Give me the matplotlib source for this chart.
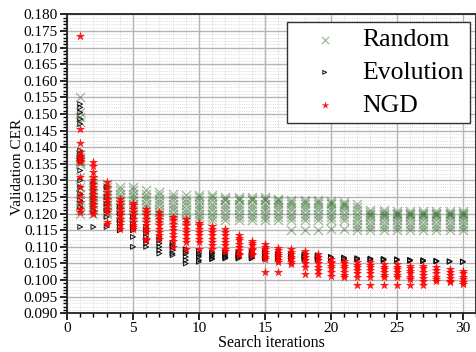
import matplotlib
matplotlib.use("Agg")
import matplotlib.pyplot as plt
from matplotlib.ticker import MultipleLocator, FormatStrFormatter

iterations = list(range(1, 31))

random_vals = [
    [0.155, 0.1505, 0.149, 0.1475, 0.138, 0.137, 0.1365, 0.136, 0.1355, 0.135, 0.131, 0.128, 0.126, 0.124, 0.1225, 0.121, 0.120],
    [0.130, 0.1285, 0.127, 0.126, 0.125, 0.124, 0.123, 0.122, 0.121, 0.120],
    [0.129, 0.128, 0.127, 0.1255, 0.1245, 0.1235, 0.1225, 0.1215, 0.1205, 0.120],
    [0.128, 0.127, 0.126, 0.125, 0.124, 0.123, 0.122, 0.121, 0.120, 0.119],
    [0.128, 0.127, 0.126, 0.125, 0.124, 0.123, 0.122, 0.121, 0.120, 0.119],
    [0.127, 0.126, 0.125, 0.124, 0.123, 0.122, 0.121, 0.120, 0.119],
    [0.1265, 0.1255, 0.1245, 0.1235, 0.1225, 0.1215, 0.1205, 0.1195, 0.1185],
    [0.126, 0.125, 0.124, 0.123, 0.122, 0.121, 0.120, 0.119, 0.118],
    [0.1255, 0.1245, 0.1235, 0.1225, 0.1215, 0.1205, 0.1195, 0.1185, 0.1178],
    [0.1255, 0.125, 0.124, 0.123, 0.122, 0.121, 0.120, 0.119, 0.118],
    [0.1255, 0.125, 0.124, 0.123, 0.122, 0.121, 0.120, 0.119, 0.118],
    [0.125, 0.1245, 0.124, 0.123, 0.122, 0.121, 0.120, 0.119, 0.118],
    [0.125, 0.1245, 0.124, 0.123, 0.122, 0.121, 0.120, 0.119, 0.118],
    [0.125, 0.1245, 0.124, 0.123, 0.122, 0.121, 0.120, 0.119, 0.118],
    [0.125, 0.1245, 0.124, 0.123, 0.122, 0.121, 0.120, 0.119, 0.118],
    [0.1245, 0.124, 0.1235, 0.123, 0.122, 0.121, 0.120, 0.119, 0.118],
    [0.124, 0.1235, 0.123, 0.122, 0.121, 0.120, 0.119, 0.118, 0.115],
    [0.124, 0.1235, 0.123, 0.122, 0.121, 0.120, 0.119, 0.118, 0.115],
    [0.124, 0.1235, 0.123, 0.122, 0.121, 0.120, 0.119, 0.118, 0.115],
    [0.1238, 0.1233, 0.123, 0.122, 0.121, 0.120, 0.119, 0.118, 0.1155],
    [0.1235, 0.123, 0.1225, 0.122, 0.121, 0.120, 0.119, 0.118, 0.1155],
    [0.1228, 0.122, 0.121, 0.120, 0.119, 0.118, 0.117, 0.116, 0.115],
    [0.121, 0.1205, 0.120, 0.1195, 0.119, 0.118, 0.117, 0.116, 0.115],
    [0.121, 0.1205, 0.120, 0.1195, 0.119, 0.118, 0.117, 0.116, 0.115],
    [0.1208, 0.1203, 0.120, 0.1195, 0.119, 0.118, 0.117, 0.116, 0.115],
    [0.1208, 0.1203, 0.120, 0.1195, 0.119, 0.118, 0.117, 0.116, 0.115],
    [0.1208, 0.1203, 0.120, 0.1195, 0.119, 0.118, 0.117, 0.116, 0.115],
    [0.1208, 0.1203, 0.120, 0.1195, 0.119, 0.118, 0.117, 0.116, 0.115],
    [0.1208, 0.1203, 0.120, 0.1195, 0.119, 0.118, 0.117, 0.116, 0.115],
    [0.1208, 0.1203, 0.120, 0.1195, 0.119, 0.118, 0.117, 0.116, 0.115],
]

evolution_vals = [
    [0.153, 0.152, 0.1505, 0.1485, 0.147, 0.139, 0.138, 0.137, 0.136, 0.133, 0.130, 0.128, 0.126, 0.124, 0.122, 0.116],
    [0.129, 0.127, 0.125, 0.123, 0.121, 0.116],
    [0.128, 0.125, 0.123, 0.121, 0.119, 0.116],
    [0.122, 0.120, 0.118, 0.117, 0.116, 0.115],
    [0.119, 0.117, 0.116, 0.115, 0.113, 0.110],
    [0.116, 0.115, 0.114, 0.113, 0.112, 0.111, 0.110],
    [0.113, 0.112, 0.111, 0.110, 0.109, 0.108],
    [0.1112, 0.1105, 0.110, 0.109, 0.108, 0.1075],
    [0.1093, 0.1085, 0.108, 0.107, 0.106, 0.105],
    [0.1088, 0.108, 0.1075, 0.107, 0.106, 0.1055],
    [0.1084, 0.108, 0.1075, 0.107, 0.1065, 0.1063],
    [0.1085, 0.108, 0.1075, 0.107, 0.1068, 0.1065],
    [0.1085, 0.108, 0.1075, 0.107, 0.1068, 0.1065],
    [0.1085, 0.108, 0.1075, 0.107, 0.1068, 0.1065],
    [0.1085, 0.108, 0.1075, 0.107, 0.1068, 0.1065],
    [0.108, 0.1075, 0.107, 0.1068, 0.1065],
    [0.108, 0.1075, 0.107, 0.1068, 0.1065],
    [0.1078, 0.1073, 0.107, 0.1066, 0.1063],
    [0.1075, 0.107, 0.1066, 0.1063],
    [0.107, 0.1068, 0.1066],
    [0.1068, 0.1065, 0.1063],
    [0.1066, 0.1063, 0.1062],
    [0.1065, 0.1062, 0.1061],
    [0.1064, 0.1062, 0.106],
    [0.1063, 0.1061, 0.106],
    [0.1061, 0.1059, 0.1058],
    [0.106, 0.1058, 0.1057],
    [0.1058, 0.1057, 0.1056],
    [0.1057, 0.1055],
    [0.1056, 0.1054],
]

ngd_vals = [
    [0.1735, 0.1455, 0.1412, 0.1385, 0.1375, 0.137, 0.1365, 0.136, 0.1355, 0.131, 0.128, 0.1255, 0.1235, 0.1215, 0.1205],
    [0.1355, 0.1345, 0.1325, 0.131, 0.130, 0.129, 0.128, 0.127, 0.126, 0.125, 0.124, 0.123, 0.122, 0.1205, 0.120],
    [0.1295, 0.128, 0.1265, 0.1255, 0.1245, 0.1235, 0.1225, 0.1215, 0.1205, 0.1175, 0.117],
    [0.1245, 0.1235, 0.1225, 0.1215, 0.1205, 0.1195, 0.1185, 0.1175, 0.1165, 0.1155],
    [0.1232, 0.1225, 0.1215, 0.1205, 0.1195, 0.1185, 0.1175, 0.1165, 0.116, 0.1155],
    [0.1215, 0.1205, 0.1195, 0.1185, 0.1175, 0.1165, 0.1155, 0.1145, 0.1125, 0.112],
    [0.1205, 0.1195, 0.1185, 0.1175, 0.1165, 0.1155, 0.1145, 0.1135, 0.1125],
    [0.1189, 0.118, 0.117, 0.116, 0.115, 0.114, 0.113, 0.1117, 0.110],
    [0.1185, 0.1175, 0.1165, 0.1155, 0.1145, 0.1135, 0.1125, 0.1115, 0.1095],
    [0.1173, 0.1165, 0.1155, 0.1145, 0.1135, 0.1125, 0.1115, 0.1093],
    [0.1163, 0.1155, 0.1145, 0.1135, 0.1125, 0.1115, 0.1105, 0.1093],
    [0.1153, 0.1145, 0.1135, 0.1125, 0.1115, 0.1105, 0.1095, 0.1088],
    [0.1135, 0.1128, 0.112, 0.111, 0.110, 0.109, 0.108, 0.1075],
    [0.1118, 0.1112, 0.1105, 0.1095, 0.109, 0.108, 0.1075],
    [0.1108, 0.110, 0.1093, 0.1085, 0.1078, 0.107, 0.1063, 0.1025],
    [0.1098, 0.109, 0.1083, 0.1075, 0.1068, 0.106, 0.1053, 0.1025],
    [0.1093, 0.1085, 0.1078, 0.107, 0.1063, 0.1055, 0.1048],
    [0.1088, 0.108, 0.107, 0.106, 0.105, 0.104, 0.1018],
    [0.1078, 0.107, 0.106, 0.105, 0.104, 0.103, 0.1018],
    [0.1063, 0.1055, 0.105, 0.1043, 0.1035, 0.1025, 0.1013],
    [0.1058, 0.105, 0.1043, 0.1035, 0.1025, 0.1015, 0.1008],
    [0.1053, 0.1045, 0.1038, 0.103, 0.102, 0.1008, 0.0985],
    [0.1053, 0.1045, 0.1038, 0.103, 0.102, 0.1008, 0.0985],
    [0.1048, 0.104, 0.1033, 0.1025, 0.1015, 0.1008, 0.0985],
    [0.1048, 0.104, 0.1033, 0.1025, 0.1015, 0.1008, 0.0985],
    [0.1043, 0.1035, 0.1028, 0.102, 0.101, 0.1003, 0.0985],
    [0.1043, 0.1035, 0.1025, 0.1015, 0.1005, 0.0998, 0.0985],
    [0.1038, 0.103, 0.102, 0.101, 0.1003, 0.0998],
    [0.1033, 0.1025, 0.1015, 0.1005, 0.0998, 0.0993],
    [0.1028, 0.102, 0.101, 0.1003, 0.0995, 0.0988],
]

series_names = ["Random", "Evolution", "NGD"]


def flatten(vals):
    xs, ys = [], []
    for it, col in zip(iterations, vals):
        for v in col:
            xs.append(it)
            ys.append(v)
    return xs, ys


plt.rcParams['font.family'] = ['Liberation Serif', 'DejaVu Serif']

fig = plt.figure(figsize=(4.77, 3.52), dpi=100)
ax = fig.add_axes([0.1405, 0.110, 0.8575, 0.849])

rx, ry = flatten(random_vals)
ex, ey = flatten(evolution_vals)
nx, ny = flatten(ngd_vals)

ax.scatter(rx, ry, marker='x', s=42, color='#2c6526', alpha=0.42, linewidths=1.0,
           label=series_names[0], zorder=3)
ax.scatter(ex, ey, marker='>', s=12, facecolors='none', edgecolors='#111111',
           linewidths=0.7, label=series_names[1], zorder=4)
ax.scatter(nx, ny, marker='*', s=50, color='#ff0000', alpha=0.88, linewidths=0,
           label=series_names[2], zorder=5)

ax.set_xlim(0, 31)
ax.set_ylim(0.090, 0.180)
ax.xaxis.set_major_locator(MultipleLocator(5))
ax.xaxis.set_minor_locator(MultipleLocator(1))
ax.yaxis.set_major_locator(MultipleLocator(0.005))
ax.yaxis.set_minor_locator(MultipleLocator(0.001))
ax.yaxis.set_major_formatter(FormatStrFormatter('%.3f'))

ax.grid(which='major', color='#b4b4b4', linewidth=1.0, linestyle='-', zorder=0)
ax.grid(which='minor', color='#cfcfcf', linewidth=0.6, linestyle=':', zorder=0)
ax.set_axisbelow(True)

ax.tick_params(which='major', direction='out', length=5, width=1.2, labelsize=11,
               colors='black', pad=1.5)
ax.tick_params(which='minor', direction='out', length=3, width=1.0)
for s in ax.spines.values():
    s.set_linewidth(1.3)
    s.set_color('#222222')

ax.set_xlabel("Search iterations", fontsize=11.5, labelpad=0)
ax.set_ylabel("Validation CER", fontsize=11, labelpad=3)
ax.yaxis.set_label_coords(-0.105, 0.49)

leg = ax.legend(loc='upper right', bbox_to_anchor=(0.985, 0.975), fontsize=18.5,
                fancybox=False, edgecolor='#333333', framealpha=1.0,
                handlelength=2.4, handletextpad=0.25, borderpad=0.25,
                labelspacing=0.38, markerscale=0.8, scatterpoints=1,
                borderaxespad=0)
leg.get_frame().set_linewidth(1.0)

fig.savefig("out.png", dpi=100)
